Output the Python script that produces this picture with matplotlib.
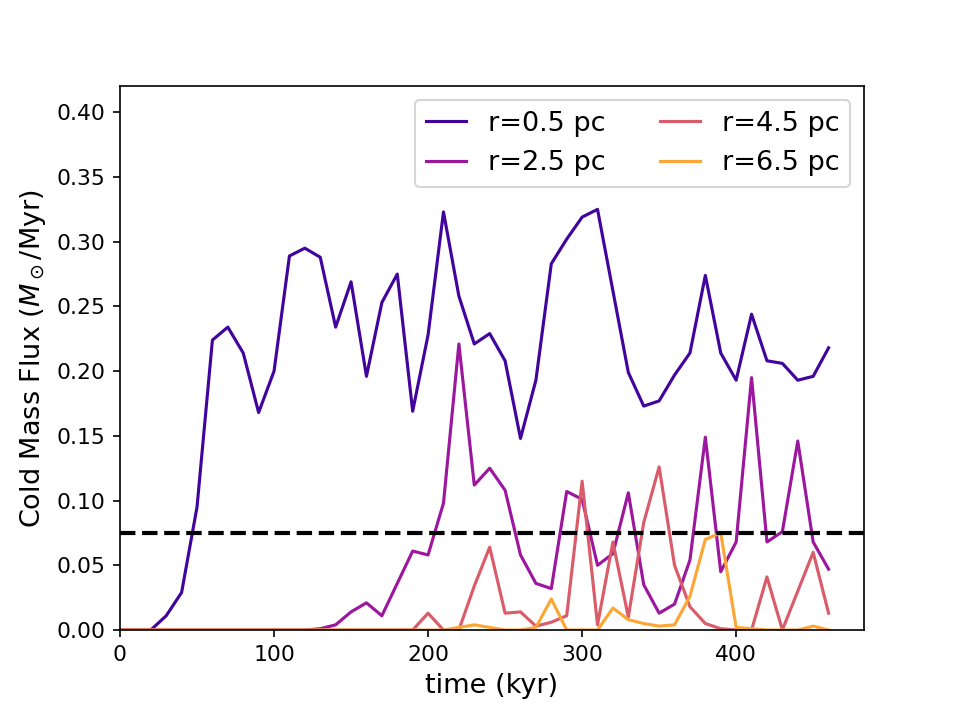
import numpy as np
import matplotlib
matplotlib.use("Agg")
import matplotlib.pyplot as plt

# time axis (kyr), one sample every 10 kyr
time_kyr = np.arange(0, 470, 10)

flux_r05 = [0.0, 0.0, 0.0, 0.011, 0.029, 0.095, 0.224, 0.234, 0.214, 0.168,
            0.200, 0.289, 0.295, 0.288, 0.234, 0.269, 0.196, 0.253, 0.275, 0.169,
            0.228, 0.323, 0.258, 0.221, 0.229, 0.208, 0.148, 0.193, 0.283, 0.302,
            0.319, 0.325, 0.262, 0.199, 0.173, 0.177, 0.197, 0.214, 0.274, 0.214,
            0.193, 0.244, 0.208, 0.206, 0.193, 0.196, 0.218]

flux_r25 = [0.0, 0.0, 0.0, 0.0, 0.0, 0.0, 0.0, 0.0, 0.0, 0.0,
            0.0, 0.0, 0.0, 0.001, 0.004, 0.014, 0.021, 0.011, 0.036, 0.061,
            0.058, 0.098, 0.221, 0.112, 0.125, 0.108, 0.058, 0.036, 0.032, 0.107,
            0.101, 0.050, 0.059, 0.106, 0.035, 0.013, 0.020, 0.054, 0.149, 0.045,
            0.068, 0.195, 0.068, 0.076, 0.146, 0.068, 0.047]

flux_r45 = [0.0, 0.0, 0.0, 0.0, 0.0, 0.0, 0.0, 0.0, 0.0, 0.0,
            0.0, 0.0, 0.0, 0.0, 0.0, 0.0, 0.0, 0.0, 0.0, 0.0,
            0.013, 0.0, 0.0, 0.034, 0.064, 0.013, 0.014, 0.003, 0.006, 0.011,
            0.115, 0.004, 0.068, 0.010, 0.083, 0.126, 0.050, 0.018, 0.005, 0.001,
            0.0, 0.0, 0.041, 0.0, 0.030, 0.060, 0.013]

flux_r65 = [0.0, 0.0, 0.0, 0.0, 0.0, 0.0, 0.0, 0.0, 0.0, 0.0,
            0.0, 0.0, 0.0, 0.0, 0.0, 0.0, 0.0, 0.0, 0.0, 0.0,
            0.0, 0.0, 0.002, 0.004, 0.002, 0.0, 0.0, 0.002, 0.024, 0.0,
            0.0, 0.0, 0.017, 0.008, 0.005, 0.003, 0.004, 0.026, 0.070, 0.075,
            0.002, 0.001, 0.0, 0.0, 0.0, 0.003, 0.0]

labels = ["r=0.5 pc", "r=2.5 pc", "r=4.5 pc", "r=6.5 pc"]
threshold = 0.075

fig, ax = plt.subplots(figsize=(6.4, 4.8), dpi=150)
fig.subplots_adjust(left=0.125, right=0.9, top=0.88, bottom=0.125)

colors = plt.cm.plasma(np.linspace(0.1, 0.8, 4))
for flux, lab, c in zip([flux_r05, flux_r25, flux_r45, flux_r65], labels, colors):
    ax.plot(time_kyr, flux, color=c, lw=1.5, label=lab)

ax.axhline(threshold, color="k", ls="--", lw=2)

ax.set_xlim(0, 483)
ax.set_ylim(0, 0.42)
ax.set_xlabel("time (kyr)", fontsize=13)
ax.set_ylabel(r"Cold Mass Flux ($M_\odot$/Myr)", fontsize=13)
ax.tick_params(labelsize=10.5)
ax.legend(ncol=2, fontsize=13, loc="upper right", handlelength=1.5)

fig.savefig("out.png", dpi=150)
